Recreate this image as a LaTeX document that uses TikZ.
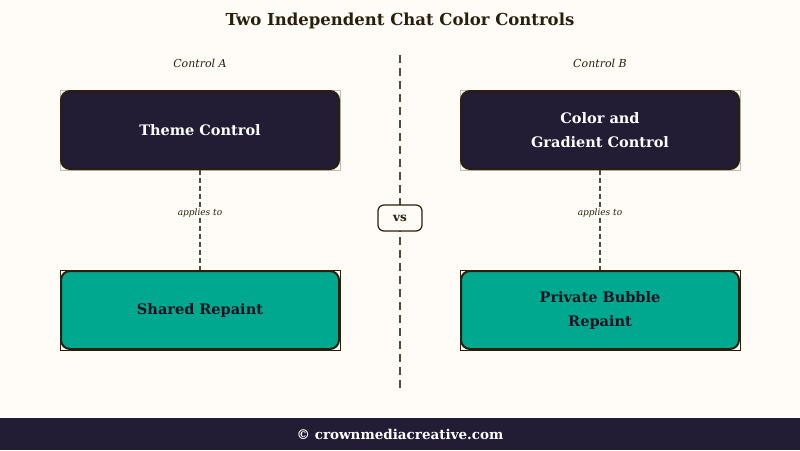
\documentclass[tikz,border=0pt]{standalone}
\usepackage{fontspec}
\setmainfont{DejaVu Serif}
\begin{document}
\definecolor{bg}{HTML}{FFFCF7}
\definecolor{navy}{HTML}{221C35}
\definecolor{teal}{HTML}{00A88F}
\definecolor{ink}{HTML}{2A1E0C}
\begin{tikzpicture}[x=1pt,y=-1pt,
  box/.style={draw=ink,line width=2pt,rounded corners=9pt,minimum width=278pt,minimum height=78pt,align=center,font=\bfseries\fontsize{14.5}{24}\selectfont},
  ctl/.style={box,fill=navy,text=white},
  rep/.style={box,fill=teal,text=navy!60!black},
  conn/.style={draw=ink!80,dash pattern=on 5pt off 3pt,line width=1.3pt},
  lbl/.style={font=\itshape\fontsize{9}{11}\selectfont,text=ink,fill=bg,inner sep=1pt}]
\fill[bg] (0,0) rectangle (800,450);
\useasboundingbox (0,0) rectangle (800,450);
\node[font=\bfseries\fontsize{16.5}{18}\selectfont,text=ink] (title) at (400,21) {Two Independent Chat Color Controls};
\node[font=\itshape\fontsize{11}{13}\selectfont,text=ink] (la) at (200,63) {Control A};
\node[font=\itshape\fontsize{11}{13}\selectfont,text=ink] (lb) at (600,63) {Control B};
\coordinate (d1) at (400,55); \coordinate (d2) at (400,388);
\draw[conn,line width=1.6pt,dash pattern=on 8pt off 5pt] (d1) -- (d2);
\foreach \x/\y in {200/130,600/130}
  \draw[ink!30,line width=0.6pt] (\x-140,\y-40) rectangle (\x+140,\y+40);
\foreach \x/\y in {200/310,600/310}
  \draw[ink,line width=0.6pt] (\x-140,\y-40) rectangle (\x+140,\y+40);
\node[ctl] (ta) at (200,130) {Theme Control};
\node[ctl] (tb) at (600,130) {Color and\\Gradient Control};
\node[rep] (ra) at (200,310) {Shared Repaint};
\node[rep] (rb) at (600,310) {Private Bubble\\Repaint};
\draw[conn] (ta) -- node[lbl,pos=0.43] {applies to} (ra);
\draw[conn] (tb) -- node[lbl,pos=0.43] {applies to} (rb);
\node[draw=ink,line width=1.2pt,fill=bg,rounded corners=6pt,minimum width=44pt,minimum height=26pt,font=\bfseries\fontsize{12}{14}\selectfont,text=ink] (vs) at (400,218) {vs};
\fill[navy] (0,418) rectangle (800,450);
\node[text=white,font=\bfseries\fontsize{13.5}{15}\selectfont] (foot) at (400,434) {© crownmediacreative.com};
\end{tikzpicture}
\end{document}
